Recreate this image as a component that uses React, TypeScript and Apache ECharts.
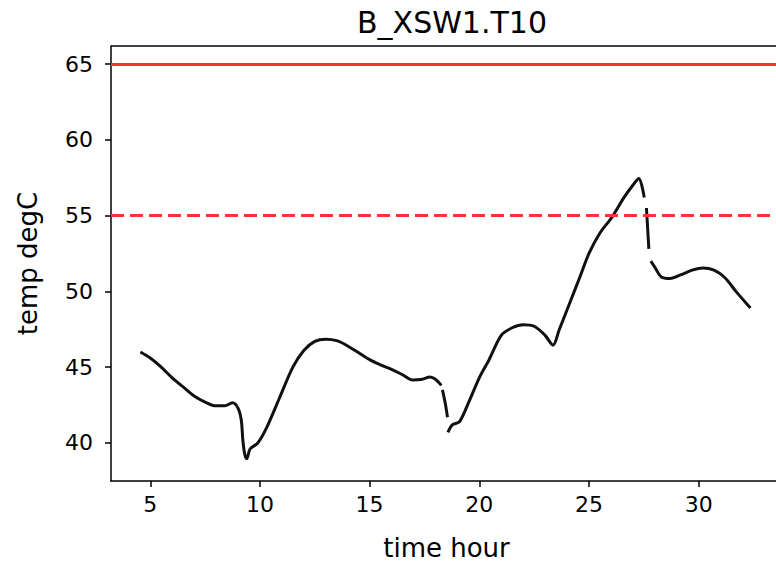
import React, { useEffect, useRef } from "react";
import * as echarts from "echarts";

// time in hours; null temperature marks a gap in the recorded line
const timeHours = [
  4.55, 5.0, 5.5, 6.0, 6.5, 7.0, 7.5, 8.0, 8.4, 8.75, 9.0, 9.15, 9.22, 9.3, 9.4, 9.55, 9.9,
  10.3, 10.9, 11.5, 12.0, 12.5, 13.0, 13.5, 14.0, 15.0, 15.5, 16.0, 16.5, 16.95, 17.4, 17.75,
  18.0, 18.27, 18.3, 18.32, 18.45, 18.55, 18.56, 18.57, 18.77, 19.1, 19.55, 20.0, 20.45, 21.0,
  21.5, 22.0, 22.5, 23.0, 23.36, 23.64, 24.23, 24.6, 25.0, 25.5, 26.05, 26.6, 27.0, 27.27, 27.52,
  27.56, 27.62, 27.73, 27.78, 27.82, 28.0, 28.3, 28.7, 29.2, 29.7, 30.2, 30.7, 31.2, 31.7, 32.36,
];
const tempDegC: (number | null)[] = [
  46.0, 45.6, 45.0, 44.3, 43.7, 43.1, 42.7, 42.45, 42.45, 42.65, 42.3, 41.5, 40.2, 39.3, 38.95, 39.6, 40.0,
  41.0, 43.0, 45.0, 46.1, 46.7, 46.85, 46.75, 46.4, 45.5, 45.15, 44.85, 44.5, 44.16, 44.2, 44.35,
  44.2, 43.8, null, 43.5, 42.6, 41.7, null, 40.7, 41.2, 41.4, 42.8, 44.3, 45.5, 47.1,
  47.6, 47.8, 47.7, 47.1, 46.45, 47.45, 49.63, 51.0, 52.5, 53.85, 54.9, 56.2, 57.0, 57.45, 56.2,
  null, 55.5, 52.8, null, 52.0, 51.6, 50.95, 50.85, 51.1, 51.4, 51.55, 51.4, 50.9, 50.0, 48.9,
];
const limitHigh = 65;
const limitWarn = 55;
const xTicks = [5, 10, 15, 20, 25, 30];
const yTicks = [40, 45, 50, 55, 60, 65];
const xRange = [3.21, 33.8];
const yRange = [37.49, 66.19];

export default function App() {
  const ref = useRef<HTMLDivElement>(null);
  useEffect(() => {
    if (!ref.current) return;
    const chart = echarts.init(ref.current, null, { renderer: "svg" });
    const font = "DejaVu Sans";
    const spine = { show: true, onZero: false, lineStyle: { color: "#000", width: 1.5 } };
    chart.setOption({
      animation: false,
      backgroundColor: "#ffffff",
      title: {
        text: "B_XSW1.T10",
        left: 447,
        top: 2,
        textAlign: "center",
        textStyle: { fontFamily: font, fontSize: 30, fontWeight: "normal", color: "#000" },
      },
      grid: {
        left: 111,
        top: 46,
        width: 671,
        height: 435,
        show: false,
        containLabel: false,
        outerBoundsMode: "none",
      },
      xAxis: {
        type: "value",
        min: xRange[0],
        max: xRange[1],
        name: "time hour",
        nameLocation: "middle",
        nameGap: 54,
        nameTextStyle: { fontFamily: font, fontSize: 26, color: "#000" },
        axisLine: spine,
        splitLine: { show: false },
        axisTick: { show: true, length: 6, lineStyle: { color: "#000", width: 1.5 }, customValues: xTicks },
        axisLabel: { fontFamily: font, fontSize: 22, color: "#000", margin: 12, customValues: xTicks },
      },
      yAxis: {
        type: "value",
        min: yRange[0],
        max: yRange[1],
        name: "temp degC",
        nameLocation: "middle",
        nameGap: 70,
        nameTextStyle: { fontFamily: font, fontSize: 26, color: "#000" },
        axisLine: spine,
        splitLine: { show: false },
        axisTick: { show: true, length: 6, lineStyle: { color: "#000", width: 1.5 }, customValues: yTicks },
        axisLabel: { fontFamily: font, fontSize: 22, color: "#000", margin: 18, customValues: yTicks },
      },
      series: [
        {
          type: "line",
          data: timeHours.map((t, i) => [t, tempDegC[i] === null ? "-" : tempDegC[i]]),
          connectNulls: false,
          smooth: 0.3,
          showSymbol: false,
          symbol: "none",
          lineStyle: { color: "#111", width: 3 },
          z: 3,
          markLine: {
            silent: true,
            symbol: "none",
            label: { show: false },
            data: [
              { yAxis: yRange[1], lineStyle: { color: "#000", width: 1.5, type: "solid" } },
              { yAxis: limitHigh, lineStyle: { color: "#ff3333", width: 3, type: "solid" } },
              { yAxis: limitWarn, lineStyle: { color: "#ff3333", width: 3, type: [13, 6] } },
            ],
          },
        },
      ],
    });
    return () => chart.dispose();
  }, []);
  return (
    <div
      ref={ref}
      style={{ position: "fixed", left: 0, top: 0, width: 776, height: 565, background: "#fff" }}
    />
  );
}
